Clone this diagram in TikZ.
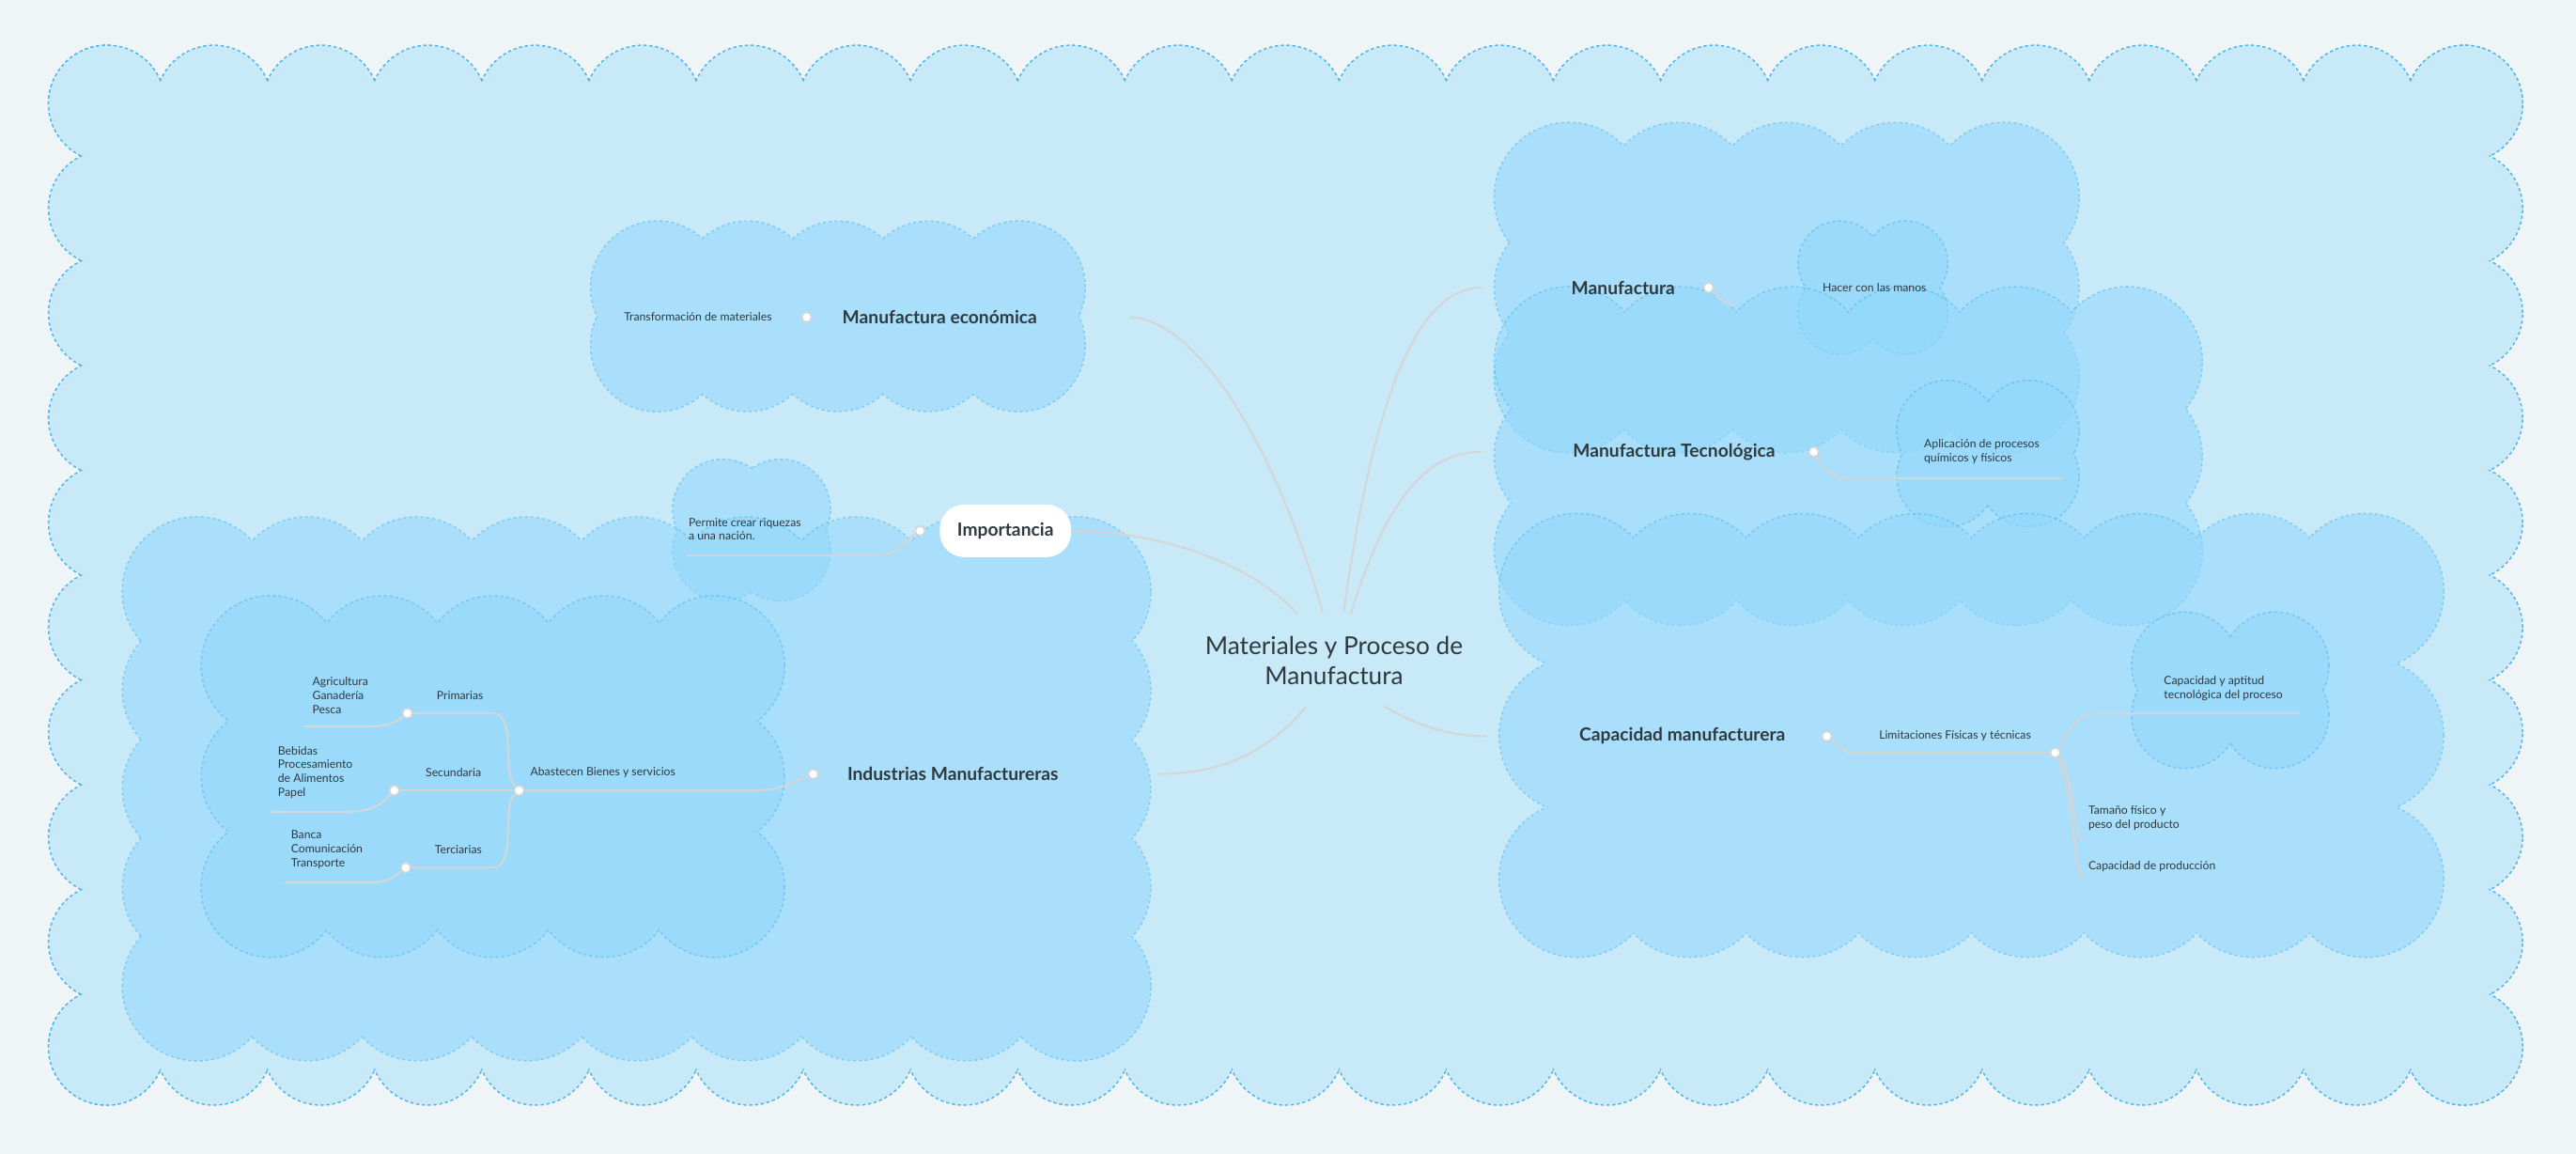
\documentclass[tikz,border=0pt]{standalone}
\usepackage{fontspec}
\setmainfont{Lato}
\definecolor{pagebg}{HTML}{EFF4F7}
\definecolor{bigc}{HTML}{C8E9F8}
\definecolor{cline}{HTML}{4DB6EE}
\definecolor{innerc}{RGB}{144,215,252}
\definecolor{conn}{HTML}{D2D6D9}
\definecolor{txt}{HTML}{2E3A40}
\newcommand\cloudbox[7]{%
 \pgfmathtruncatemacro\cnx{max(1,round((#3-#1)/(#7*#5)))}%
 \pgfmathtruncatemacro\cny{max(1,round((#4-#2)/(#7*#5)))}%
 \pgfmathsetmacro\csx{(#3-#1)/\cnx}%
 \pgfmathsetmacro\csy{(#4-#2)/\cny}%
 \foreach \k in {0,...,\cnx}{\pgfmathsetmacro\cxx{#1+\csx*\k}\draw[puffline,#6] (\cxx,#2) circle (#5pt) (\cxx,#4) circle (#5pt);}%
 \foreach \k in {0,...,\cny}{\pgfmathsetmacro\cyy{#2+\csy*\k}\draw[puffline,#6] (#1,\cyy) circle (#5pt) (#3,\cyy) circle (#5pt);}%
 \foreach \k in {0,...,\cnx}{\pgfmathsetmacro\cxx{#1+\csx*\k}\fill[#6] (\cxx,#2) circle (#5pt) (\cxx,#4) circle (#5pt);}%
 \foreach \k in {0,...,\cny}{\pgfmathsetmacro\cyy{#2+\csy*\k}\fill[#6] (#1,\cyy) circle (#5pt) (#3,\cyy) circle (#5pt);}%
 \fill[#6] (#1,#2) rectangle (#3,#4);}
\tikzset{
 puffline/.style={draw=cline,line width=1.8pt,dash pattern=on 2pt off 1.5pt},
 bigfill/.style={fill=bigc},
 inner/.style={fill=innerc},
 small/.style={font=\fontsize{7}{8.5}\selectfont,text=txt,inner sep=1pt},
 smallL/.style={small,align=left,anchor=west},
 topic/.style={font=\fontsize{11}{13}\selectfont\bfseries,text=txt},
 dotn/.style={circle,fill=white,draw=conn,line width=1pt,minimum size=6pt,inner sep=0pt},
 cn/.style={draw=conn,line width=1.2pt},
}
\begin{document}
\begin{tikzpicture}[x=1pt,y=-1pt]
\useasboundingbox (0,0) rectangle (1568,702);
\fill[pagebg] (0,0) rectangle (1568,702);
\cloudbox{65}{63}{1500}{637}{35}{bigfill}{1.9}
\foreach \a/\b/\c/\d/\r in {400/175/620/210/40, 440/310/475/335/30, 120/360/655/600/45, 165/405/435/540/42, 955/120/1220/230/45, 1120/160/1160/190/25, 955/220/1295/335/45, 1185/262/1235/290/30, 960/360/1440/535/47, 1330/405/1385/435/32}{
 \begin{scope}[transparency group,opacity=0.55]
 \cloudbox{\a}{\b}{\c}{\d}{\r}{inner}{1.5}
 \end{scope}}
% center
\node[font=\fontsize{15}{18}\selectfont,text=txt,align=center] (center) at (812,402) {Materiales y Proceso de\\Manufactura};
\coordinate (c1) at (805,372); \coordinate (c2) at (818,372); \coordinate (c3) at (822,374);
\coordinate (c4) at (843,430); \coordinate (c5) at (795,430); \coordinate (c6) at (790,374);
% topics
\node[topic] (me) at (572,193) {Manufactura económica};
\node[dotn] (dme) at (491,193) {};
\node[small,anchor=east] (tm) at (471,193) {Transformación de materiales};
\node[topic,fill=white,rounded corners=15pt,minimum width=80pt,minimum height=32pt] (imp) at (612,323) {Importancia};
\node[dotn] (dimp) at (560,323) {};
\node[smallL] (pc) at (418,322) {Permite crear riquezas\\a una nación.};
\node[topic] (im) at (580,471) {Industrias Manufactureras};
\node[dotn] (dim) at (495,471) {};
\node[small] (ab) at (367,470) {Abastecen Bienes y servicios};
\node[dotn] (dab) at (316,481) {};
\node[small] (pr) at (280,423) {Primarias};
\node[dotn] (dpr) at (248,434) {};
\node[smallL] (agr) at (189,423) {Agricultura\\Ganadería\\Pesca};
\node[small] (se) at (276,470) {Secundaria};
\node[dotn] (dse) at (240,481) {};
\node[smallL] (beb) at (168,470) {Bebidas\\Procesamiento\\de Alimentos\\Papel};
\node[small] (te) at (279,517) {Terciarias};
\node[dotn] (dte) at (247,528) {};
\node[smallL] (ban) at (176,517) {Banca\\Comunicación\\Transporte};
\node[topic] (mf) at (988,175) {Manufactura};
\node[dotn] (dmf) at (1040,175) {};
\node[small] (hm) at (1141,175) {Hacer con las manos};
\node[topic] (mt) at (1019,275) {Manufactura Tecnológica};
\node[dotn] (dmt) at (1104,275) {};
\node[smallL] (ap) at (1170,275) {Aplicación de procesos\\químicos y físicos};
\node[topic] (cm) at (1024,448) {Capacidad manufacturera};
\node[dotn] (dcm) at (1112,448) {};
\node[small] (lim) at (1190,448) {Limitaciones Físicas y técnicas};
\node[dotn] (dlim) at (1251,458) {};
\node[smallL] (cap) at (1316,419) {Capacidad y aptitud\\tecnológica del proceso};
\node[smallL] (tam) at (1270,498) {Tamaño físico y\\peso del producto};
\node[smallL] (cdp) at (1270,527) {Capacidad de producción};
% main connectors
\draw[cn] (c1) .. controls (770,250) and (720,193) .. (688,193);
\draw[cn] (c2) .. controls (835,250) and (860,175) .. (902,175);
\draw[cn] (c3) .. controls (845,300) and (870,275) .. (902,275);
\draw[cn] (c4) .. controls (860,440) and (880,448) .. (905,448);
\draw[cn] (c5) .. controls (770,460) and (740,471) .. (705,471);
\draw[cn] (c6) .. controls (760,340) and (700,323) .. (652,323);
% sub connectors
\draw[cn] (dimp) .. controls (550,330) and (545,338) .. (535,338) -- (418,338);
\draw[cn] (dim) .. controls (485,475) and (475,481) .. (460,481) -- (dab);
\draw[cn] (dab) .. controls (305,470) and (315,434) .. (300,434) -- (dpr);
\draw[cn] (dab) -- (dse);
\draw[cn] (dab) .. controls (305,490) and (315,528) .. (300,528) -- (dte);
\draw[cn] (dpr) .. controls (240,440) and (235,442) .. (225,442) -- (185,442);
\draw[cn] (dse) .. controls (232,490) and (225,494) .. (210,494) -- (165,494);
\draw[cn] (dte) .. controls (240,534) and (235,537) .. (225,537) -- (173,537);
\draw[cn] (dmf) .. controls (1045,180) and (1050,185) .. (1055,186);
\draw[cn] (dmt) .. controls (1110,285) and (1115,291) .. (1125,291) -- (1255,291);
\draw[cn] (dcm) -- (1125,458) -- (dlim);
\draw[cn] (dlim) .. controls (1260,445) and (1262,436) .. (1275,434) -- (1400,434);
\draw[cn] (dlim) .. controls (1262,470) and (1262,510) .. (1268,512);
\draw[cn] (dlim) .. controls (1262,480) and (1262,530) .. (1268,535);
\end{tikzpicture}
\end{document}
